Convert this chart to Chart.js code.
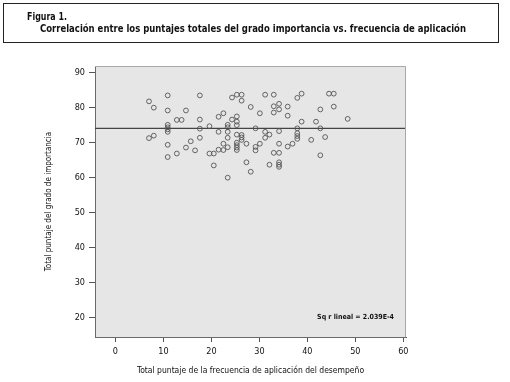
<!DOCTYPE html>
<html>
<head>
<meta charset="utf-8">
<script src="https://cdn.jsdelivr.net/npm/chart.js@4.4.1/dist/chart.umd.min.js"></script>
<style>
  body { margin: 0; background: #fff; }
  #wrap { position: relative; width: 510px; height: 382px; overflow: hidden; }
  #chart { position: absolute; left: 0; top: 0; }
  #titleBox {
    position: absolute; left: 3px; top: 3px; width: 496px; height: 40px;
    border: 1px solid #222; box-sizing: border-box;
    font-family: "Liberation Sans Narrow", "DejaVu Sans Condensed", sans-serif;
    font-weight: bold; font-size: 11px; color: #111;
  }
  #titleBox div { position: absolute; white-space: nowrap; transform-origin: 0 0; }
  #t1 { left: 23px; top: 6px; }
  #t2 { left: 36px; top: 18px; }
</style>
</head>
<body>
<div id="wrap">
  <canvas id="chart" width="510" height="382"></canvas>
  <div id="titleBox">
    <div id="t1">Figura 1.</div>
    <div id="t2">Correlación entre los puntajes totales del grado importancia vs. frecuencia de aplicación</div>
  </div>
</div>
<script>
// Data (x = frecuencia, y = importancia)
const frecuencia = [
  7.0, 7.0,
  8.0, 8.0,
  10.9, 10.9, 10.9, 10.9, 10.9, 10.9, 10.9, 10.9,
  12.8, 12.8,
  13.8,
  14.7, 14.7,
  15.7,
  16.6,
  17.6, 17.6, 17.6, 17.6,
  19.6, 19.6,
  20.5, 20.5,
  21.5, 21.5, 21.5,
  22.5, 22.5, 22.5,
  23.4, 23.4, 23.4, 23.4, 23.4, 23.4,
  24.3, 24.3,
  25.3, 25.3, 25.3, 25.3, 25.3, 25.3, 25.3, 25.3, 25.3,
  26.3, 26.3, 26.3, 26.3, 26.3,
  27.3, 27.3,
  28.2, 28.2,
  29.2, 29.2, 29.2,
  30.1, 30.1,
  31.2, 31.2, 31.2,
  32.1, 32.1,
  33.0, 33.0, 33.0, 33.0,
  34.1, 34.1, 34.1, 34.1, 34.1, 34.1, 34.1, 34.1,
  35.9, 35.9, 35.9,
  36.9,
  37.9, 37.9, 37.9, 37.9, 37.9,
  38.8, 38.8,
  40.8,
  41.8,
  42.7, 42.7, 42.7,
  43.7,
  44.5,
  45.5, 45.5,
  48.4
];
const importancia = [
  81.7, 71.2,
  79.9, 71.9,
  83.4, 79.1, 75.0, 74.3, 73.7, 73.0, 69.3, 65.8,
  76.4, 66.8,
  76.4,
  79.1, 68.5,
  70.3,
  67.7,
  83.4, 76.5, 73.9, 71.3,
  74.6, 66.8,
  66.8, 63.4,
  77.3, 73.0, 67.9,
  78.3, 69.6, 67.8,
  75.0, 74.3, 73.0, 71.3, 68.6, 59.9,
  82.8, 76.5,
  83.6, 77.4, 75.9, 74.9, 72.2, 69.9, 69.2, 68.5, 67.8,
  83.6, 81.9, 72.1, 71.4, 70.7,
  69.6, 64.3,
  80.1, 61.6,
  74.0, 68.7, 67.7,
  78.3, 69.6,
  83.6, 73.0, 71.3,
  72.2, 63.6,
  83.6, 80.3, 78.5, 67.0,
  81.0, 79.4, 73.2, 69.6, 67.0, 64.3, 63.6, 63.0,
  80.2, 77.6, 68.8,
  69.6,
  82.7, 74.0, 72.6, 71.8, 71.0,
  83.9, 75.9,
  70.7,
  75.9,
  79.4, 74.0, 66.3,
  71.5,
  83.9,
  83.9, 80.2,
  76.7
];

// Fit line (Sq r lineal ~ 0, so it is flat)
const fitX = [-4.25, 60.55];
const fitY = [74.0, 74.0];
const rsqText = "Sq r lineal = 2.039E-4";

const xTicks = [0, 10, 20, 30, 40, 50, 60];
const yTicks = [20, 30, 40, 50, 60, 70, 80, 90];

const FONT = '"Liberation Sans Narrow", "DejaVu Sans Condensed", sans-serif';

// squeeze the heading lines to the width they have in the figure
function fitWidth(id, w) {
  const el = document.getElementById(id);
  const s = w / el.getBoundingClientRect().width;
  el.style.transform = "scaleX(" + s + ")";
}
fitWidth("t1", 40);
fitWidth("t2", 426);

const points = frecuencia.map((x, i) => ({ x: x, y: importancia[i] }));
const fitPoints = fitX.map((x, i) => ({ x: x, y: fitY[i] }));

// plot background, frame and R² note
const plotFrame = {
  id: "plotFrame",
  beforeDraw(chart) {
    const a = chart.chartArea, ctx = chart.ctx;
    ctx.save();
    ctx.fillStyle = "#e6e6e6";
    ctx.fillRect(a.left, a.top, a.right - a.left, a.bottom - a.top);
    ctx.restore();
  },
  afterDraw(chart) {
    const a = chart.chartArea, ctx = chart.ctx;
    ctx.save();
    ctx.strokeStyle = "#a8a8a8";
    ctx.lineWidth = 1;
    ctx.beginPath();
    ctx.moveTo(a.left, a.top + 0.5);
    ctx.lineTo(a.right - 0.5, a.top + 0.5);
    ctx.lineTo(a.right - 0.5, a.bottom);
    ctx.stroke();
    ctx.fillStyle = "#111";
    ctx.font = "bold 7px " + FONT;
    ctx.textAlign = "right";
    ctx.textBaseline = "middle";
    ctx.fillText(rsqText, a.right - 12, 317);
    ctx.restore();
  }
};

new Chart(document.getElementById("chart"), {
  type: "scatter",
  data: {
    datasets: [
      {
        data: points,
        pointRadius: 2.4,
        pointHoverRadius: 2.4,
        borderWidth: 0.9,
        borderColor: "#555",
        backgroundColor: "rgba(0,0,0,0)"
      },
      {
        type: "line",
        data: fitPoints,
        borderColor: "#444",
        borderWidth: 1.3,
        pointRadius: 0,
        fill: false
      }
    ]
  },
  options: {
    responsive: false,
    animation: false,
    events: [],
    layout: { padding: { top: 66, right: 104, left: 0, bottom: 0 } },
    plugins: { legend: { display: false }, tooltip: { enabled: false } },
    scales: {
      x: {
        type: "linear",
        min: -4.25,
        max: 60.55,
        afterBuildTicks: s => { s.ticks = xTicks.map(v => ({ value: v })); },
        afterFit: s => { s.height = 45; s.paddingLeft = 0; s.paddingRight = 0; },
        ticks: { color: "#111", font: { family: FONT, size: 9 }, padding: 4 },
        grid: { drawOnChartArea: false, drawTicks: true, tickLength: 5, color: "#555" },
        border: { display: true, color: "#6a6a6a" },
        title: {
          display: true,
          text: "Total puntaje de la frecuencia de aplicación del desempeño",
          color: "#111",
          font: { family: FONT, size: 8.5 },
          padding: { top: 0, bottom: 5.8 }
        }
      },
      y: {
        type: "linear",
        min: 14.4,
        max: 91.8,
        afterBuildTicks: s => { s.ticks = yTicks.map(v => ({ value: v })); },
        afterFit: s => { s.width = 95; s.paddingTop = 0; s.paddingBottom = 0; },
        ticks: { color: "#111", font: { family: FONT, size: 9 }, padding: 4 },
        grid: { drawOnChartArea: false, drawTicks: true, tickLength: 6, color: "#555" },
        border: { display: true, color: "#6a6a6a" },
        title: {
          display: true,
          text: "Total puntaje del grado de importancia",
          color: "#111",
          font: { family: FONT, size: 8 },
          padding: { top: 44, bottom: 0 }
        }
      }
    }
  },
  plugins: [plotFrame]
});
</script>
</body>
</html>
